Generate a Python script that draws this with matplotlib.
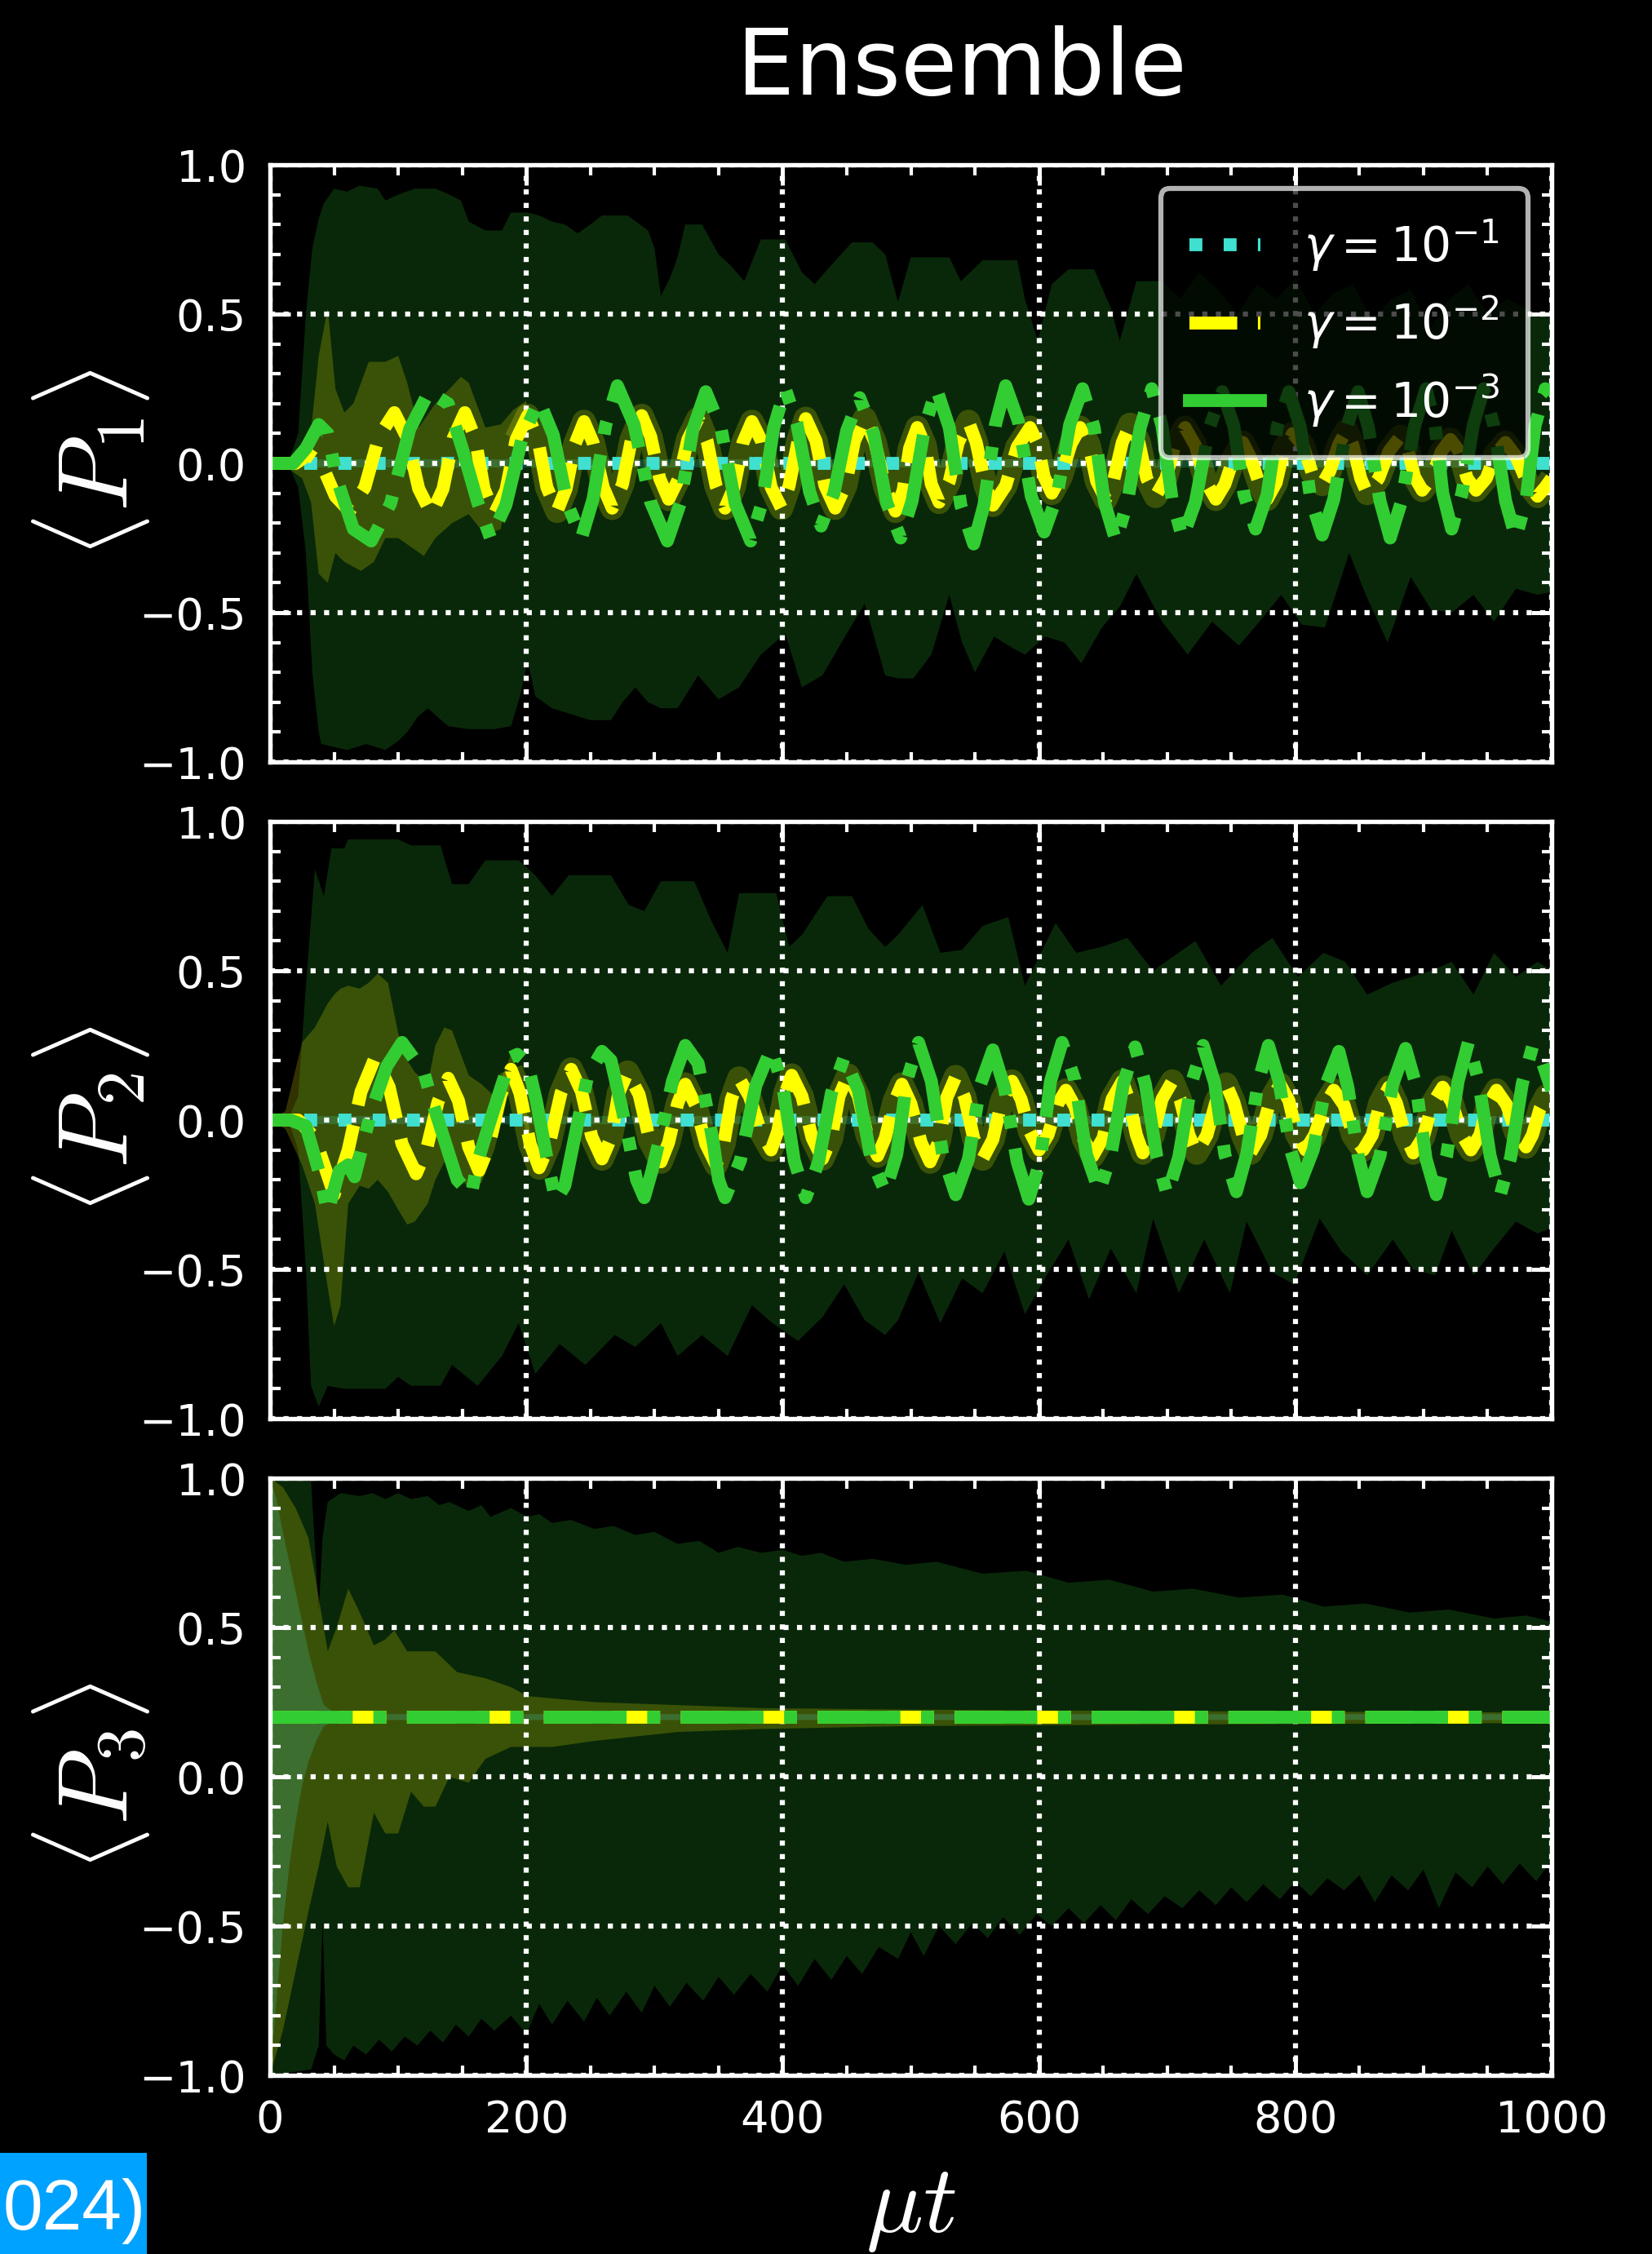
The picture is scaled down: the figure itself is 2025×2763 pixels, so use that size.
import numpy as np
import matplotlib
matplotlib.use('Agg')
import matplotlib.pyplot as plt
from matplotlib.lines import Line2D
from matplotlib.patches import Rectangle

CYAN = '#40E0D0'
YEL = '#FFFF00'
GRN = '#32CD32'

# ---- ensemble means as (mu*t, value) ----
cyan_p1 = [(0, 0.0), (1000, 0.0)]
cyan_p2 = [(0, 0.0), (1000, 0.0)]
mean_p3 = [(0, 0.2), (1000, 0.2)]

green_p1 = [(0,0.0),(10,0.0),(18,0.0),(28,0.05),(38,0.13),(45,0.10),(52,-0.05),(65,-0.22),(79,-0.26),(94,-0.135),
            (109,0.115),(124,0.24),(139,0.20),(150,0.05),(162,-0.13),(172,-0.25),(184,-0.14),(197,0.09),(210,0.21),
            (221,0.095),(232,-0.135),(243,-0.25),(252,-0.12),(262,0.13),(271,0.26),(284,0.13),(297,-0.13),(310,-0.26),
            (320,-0.135),(330,0.115),(340,0.24),(352,0.115),(363,-0.135),(375,-0.26),(384,-0.13),(393,0.12),(402,0.25),
            (411,0.135),(421,-0.095),(430,-0.21),(440,-0.10),(450,0.11),(460,0.22),(471,0.10),(481,-0.13),(492,-0.25),
            (501,-0.125),(511,0.125),(520,0.25),(530,0.12),(539,-0.14),(549,-0.27),(557,-0.14),(566,0.13),(574,0.26),
            (584,0.14),(594,-0.11),(604,-0.23),(614,-0.11),(624,0.13),(634,0.25),(643,0.12),(651,-0.13),(660,-0.26),
            (669,-0.13),(679,0.12),(688,0.25),(696,0.125),(704,-0.125),(712,-0.25),(722,-0.13),(733,0.12),(743,0.24),
            (752,0.125),(760,-0.105),(769,-0.22),(778,-0.105),(786,0.125),(795,0.24),(804,0.12),(812,-0.12),(821,-0.24),
            (830,-0.12),(840,0.12),(849,0.24),(857,0.12),(866,-0.125),(874,-0.25),(883,-0.125),(893,0.125),(902,0.25),
            (909,0.13),(915,-0.10),(922,-0.22),(930,-0.10),(939,0.13),(947,0.25),(955,0.125),(964,-0.125),(972,-0.25),
            (980,-0.125),(987,0.125),(995,0.25),(1000,0.23)]

yellow_p1 = [(0,0.0),(20,0.0),(30,0.03),(40,0.0),(51,-0.11),(62,-0.16),(74,-0.08),(85,0.09),(97,0.17),(107,0.085),
             (116,-0.085),(126,-0.17),(135,-0.085),(143,0.085),(152,0.17),(160,0.085),(167,-0.085),(175,-0.17),(184,-0.09),
             (192,0.08),(201,0.16),(209,0.08),(216,-0.08),(224,-0.16),(231,-0.085),(238,0.065),(245,0.14),(252,0.07),
             (260,-0.08),(267,-0.15),(275,-0.07),(282,0.08),(290,0.16),(297,0.09),(304,-0.05),(311,-0.12),(319,-0.05),
             (326,0.08),(334,0.15),(341,0.075),(348,-0.075),(355,-0.15),(362,-0.08),(369,0.07),(376,0.14),(384,0.07),
             (391,-0.08),(399,-0.15),(405,-0.075),(412,0.075),(418,0.15),(426,0.075),(433,-0.075),(441,-0.15),(449,-0.075),
             (456,0.075),(464,0.15),(472,0.07),(480,-0.08),(488,-0.16),(494,-0.09),(499,0.05),(505,0.12),(511,0.06),
             (516,-0.07),(522,-0.13),(530,-0.06),(537,0.07),(545,0.14),(551,0.07),(558,-0.07),(564,-0.14),(574,-0.075),
             (583,0.055),(593,0.12),(599,0.065),(604,-0.045),(610,-0.10),(617,-0.045),(625,0.065),(632,0.12),(639,0.06),
             (645,-0.06),(652,-0.12),(658,-0.06),(665,0.07),(671,0.13),(678,0.07),(684,-0.05),(691,-0.11),(699,-0.05),
             (706,0.06),(714,0.12),(722,0.06),(730,-0.06),(738,-0.12),(745,-0.07),(752,0.02),(759,0.07),(765,0.02),
             (772,-0.07),(778,-0.12),(785,-0.065),(791,0.045),(798,0.10),(806,0.06),(813,-0.03),(821,-0.07),(827,-0.025),
             (834,0.065),(840,0.11),(845,0.06),(851,-0.05),(856,-0.10),(865,-0.05),(873,0.04),(882,0.09),(888,0.045),
             (893,-0.045),(899,-0.09),(906,-0.05),(914,0.04),(921,0.08),(928,0.04),(934,-0.05),(941,-0.09),(949,-0.05),
             (956,0.03),(964,0.07),(972,0.025),(981,-0.065),(989,-0.11),(995,-0.08),(1000,-0.05)]

green_p2 = [(0,0.0),(16,0.0),(28,-0.02),(38,-0.17),(45,-0.31),(54,-0.17),(61,-0.15),(66,-0.19),(79,0.03),(91,0.18),
            (103,0.26),(120,0.16),(126,0.07),(146,-0.20),(157,-0.25),(162,-0.14),(172,0.0),(181,0.12),(188,0.21),(193,0.22),
            (201,0.19),(208,0.06),(214,-0.08),(218,-0.17),(223,-0.27),(230,-0.22),(240,-0.01),(248,0.15),(259,0.23),
            (266,0.20),(275,0.03),(280,-0.07),(286,-0.20),(292,-0.26),(298,-0.17),(308,0.01),(314,0.13),(324,0.25),
            (334,0.19),(340,0.06),(346,-0.08),(350,-0.20),(355,-0.26),(367,-0.135),(379,0.115),(391,0.24),(400,0.115),
            (409,-0.135),(418,-0.26),(428,-0.14),(438,0.09),(448,0.21),(459,0.10),(469,-0.13),(480,-0.24),(489,-0.115),
            (497,0.135),(506,0.26),(516,0.13),(525,-0.12),(535,-0.25),(545,-0.13),(554,0.115),(564,0.235),(573,0.11),
            (583,-0.14),(592,-0.265),(601,-0.135),(609,0.13),(618,0.26),(628,0.135),(637,-0.115),(647,-0.24),(656,-0.12),
            (666,0.125),(675,0.245),(683,0.12),(692,-0.125),(700,-0.25),(709,-0.125),(719,0.125),(728,0.25),(737,0.125),
            (745,-0.115),(754,-0.24),(762,-0.115),(771,0.125),(779,0.25),(787,0.135),(796,-0.095),(804,-0.21),(814,-0.10),
            (824,0.12),(834,0.23),(841,0.11),(849,-0.12),(856,-0.24),(866,-0.12),(876,0.12),(886,0.24),(894,0.12),
            (902,-0.13),(910,-0.25),(918,-0.12),(927,0.13),(935,0.26),(943,0.13),(952,-0.12),(960,-0.25),(968,-0.125),
            (977,0.12),(985,0.245),(993,0.19),(1000,0.10)]

yellow_p2 = [(0,0.0),(22,0.0),(35,-0.06),(43,-0.16),(50,-0.25),(61,-0.10),(71,0.095),(82,0.21),(93,0.11),(103,-0.08),
             (114,-0.18),(122,-0.10),(131,0.06),(139,0.14),(147,0.065),(155,-0.09),(163,-0.17),(171,-0.085),(180,0.085),
             (188,0.17),(195,0.09),(203,-0.08),(210,-0.16),(218,-0.08),(227,0.09),(235,0.17),(243,0.095),(251,-0.055),
             (259,-0.13),(266,-0.06),(272,0.09),(279,0.16),(288,0.085),(296,-0.065),(305,-0.14),(311,-0.075),(318,0.055),
             (324,0.12),(332,0.05),(340,-0.08),(348,-0.15),(354,-0.08),(360,0.07),(366,0.14),(374,0.08),(383,-0.04),
             (391,-0.10),(396,-0.04),(402,0.09),(407,0.15),(415,0.08),(423,-0.06),(431,-0.13),(438,-0.06),(444,0.08),
             (451,0.15),(459,0.08),(466,-0.05),(474,-0.12),(480,-0.06),(487,0.06),(493,0.12),(500,0.055),(508,-0.075),
             (515,-0.14),(522,-0.07),(528,0.075),(535,0.145),(542,0.075),(549,-0.06),(556,-0.13),(564,-0.065),(571,0.065),
             (579,0.13),(586,0.07),(593,-0.04),(600,-0.10),(607,-0.05),(614,0.05),(621,0.10),(628,0.045),(635,-0.065),
             (642,-0.12),(650,-0.06),(657,0.07),(665,0.13),(670,0.07),(676,-0.05),(681,-0.11),(689,-0.05),(696,0.07),
             (704,0.13),(710,0.07),(717,-0.05),(723,-0.11),(731,-0.05),(738,0.06),(746,0.12),(752,0.06),(759,-0.05),
             (765,-0.11),(773,-0.05),(780,0.06),(788,0.12),(795,0.065),(801,-0.045),(808,-0.10),(815,-0.05),(823,0.05),
             (830,0.10),(838,0.05),(845,-0.05),(853,-0.10),(860,-0.05),(866,0.055),(873,0.11),(879,0.055),(886,-0.055),
             (892,-0.11),(900,-0.055),(907,0.055),(915,0.11),(922,0.06),(930,-0.05),(937,-0.10),(944,-0.05),(950,0.05),
             (957,0.10),(965,0.05),(972,-0.04),(980,-0.09),(985,-0.05),(991,0.04),(996,0.08),(1000,0.07)]

# ---- spread bands: upper / lower edges ----
g1_hi = [(0,0.0),(15,0.01),(22,0.1),(28,0.5),(33,0.72),(38,0.82),(42,0.87),(50,0.92),(60,0.91),(70,0.93),(84,0.92),
         (90,0.88),(100,0.9),(113,0.92),(129,0.92),(140,0.9),(149,0.88),(155,0.81),(168,0.78),(181,0.78),(188,0.84),
         (201,0.84),(210,0.83),(220,0.81),(230,0.8),(240,0.77),(250,0.8),(259,0.83),(279,0.83),(295,0.78),(300,0.72),
         (305,0.56),(312,0.62),(318,0.69),(324,0.8),(337,0.8),(350,0.70),(360,0.66),(370,0.61),(383,0.75),(402,0.75),
         (415,0.64),(425,0.6),(435,0.65),(454,0.74),(470,0.74),(480,0.7),(490,0.54),(500,0.69),(530,0.69),(539,0.61),
         (556,0.68),(583,0.68),(589,0.55),(599,0.41),(610,0.6),(623,0.65),(643,0.65),(656,0.52),(663,0.41),(676,0.61),
         (696,0.61),(710,0.55),(725,0.64),(740,0.58),(755,0.5),(770,0.6),(785,0.55),(800,0.62),(815,0.5),(830,0.57),
         (845,0.6),(860,0.48),(875,0.55),(890,0.58),(905,0.45),(920,0.55),(935,0.6),(950,0.5),(965,0.55),(980,0.52),
         (989,0.49),(1000,0.5)]
g1_lo = [(0,0.0),(15,-0.01),(22,-0.08),(28,-0.3),(33,-0.7),(38,-0.9),(40,-0.94),(50,-0.95),(60,-0.96),(75,-0.94),
         (90,-0.96),(100,-0.93),(107,-0.9),(115,-0.85),(123,-0.82),(139,-0.88),(155,-0.89),(175,-0.89),(188,-0.88),
         (195,-0.78),(201,-0.66),(207,-0.78),(220,-0.82),(235,-0.84),(250,-0.86),(266,-0.86),(275,-0.8),(285,-0.75),
         (295,-0.8),(305,-0.82),(318,-0.82),(334,-0.71),(350,-0.79),(366,-0.75),(383,-0.64),(402,-0.57),(415,-0.75),
         (431,-0.71),(450,-0.57),(464,-0.47),(480,-0.71),(490,-0.72),(502,-0.72),(516,-0.64),(530,-0.44),(540,-0.6),
         (550,-0.70),(565,-0.58),(580,-0.62),(589,-0.64),(605,-0.58),(620,-0.6),(633,-0.67),(649,-0.55),(663,-0.48),
         (676,-0.37),(696,-0.53),(716,-0.64),(735,-0.53),(756,-0.61),(772,-0.53),(789,-0.44),(805,-0.54),(823,-0.55),
         (842,-0.30),(855,-0.44),(872,-0.6),(890,-0.38),(906,-0.49),(922,-0.5),(939,-0.44),(955,-0.53),(972,-0.42),
         (989,-0.44),(1000,-0.43)]
g2_hi = [(0,0.0),(15,0.01),(22,0.08),(28,0.45),(35,0.84),(42,0.75),(48,0.91),(58,0.91),(61,0.94),(80,0.94),(100,0.94),
         (110,0.92),(133,0.92),(142,0.79),(155,0.79),(168,0.87),(194,0.87),(207,0.82),(220,0.75),(233,0.82),(266,0.82),
         (280,0.72),(292,0.7),(305,0.8),(331,0.8),(344,0.67),(357,0.56),(366,0.76),(395,0.76),(405,0.58),(415,0.62),
         (435,0.75),(454,0.75),(467,0.64),(480,0.58),(490,0.62),(509,0.72),(523,0.56),(540,0.57),(556,0.65),(576,0.68),
         (589,0.45),(613,0.66),(629,0.56),(649,0.58),(669,0.61),(689,0.5),(722,0.6),(742,0.45),(766,0.56),(782,0.61),
         (802,0.48),(822,0.56),(839,0.53),(856,0.42),(876,0.46),(906,0.5),(922,0.53),(939,0.42),(955,0.56),(972,0.48),
         (989,0.53),(1000,0.5)]
g2_lo = [(0,0.0),(15,-0.01),(22,-0.1),(28,-0.5),(32,-0.89),(38,-0.96),(45,-0.89),(58,-0.9),(90,-0.9),(100,-0.86),
         (110,-0.89),(133,-0.89),(142,-0.82),(162,-0.89),(181,-0.79),(194,-0.68),(207,-0.85),(226,-0.75),(246,-0.82),
         (269,-0.72),(285,-0.76),(305,-0.68),(318,-0.79),(337,-0.72),(357,-0.79),(376,-0.62),(392,-0.68),(412,-0.74),
         (431,-0.66),(448,-0.55),(464,-0.67),(480,-0.72),(490,-0.67),(506,-0.51),(523,-0.68),(540,-0.53),(556,-0.58),
         (573,-0.44),(589,-0.65),(606,-0.52),(623,-0.4),(639,-0.6),(656,-0.43),(676,-0.58),(689,-0.33),(709,-0.58),
         (729,-0.4),(749,-0.58),(762,-0.34),(782,-0.51),(799,-0.55),(819,-0.33),(836,-0.44),(856,-0.52),(876,-0.4),
         (892,-0.5),(909,-0.52),(922,-0.37),(939,-0.52),(955,-0.43),(972,-0.34),(989,-0.38),(1000,-0.36)]
g3_hi = [(0,1.0),(32,0.99),(36,0.7),(38,0.55),(41,0.8),(45,0.92),(55,0.95),(70,0.94),(80,0.95),(90,0.93),(100,0.95),
         (110,0.93),(123,0.94),(132,0.91),(140,0.92),(155,0.89),(165,0.91),(172,0.87),(188,0.9),(201,0.87),(210,0.88),
         (220,0.85),(235,0.86),(253,0.83),(268,0.84),(285,0.81),(300,0.82),(318,0.78),(335,0.79),(350,0.75),(365,0.77),
         (383,0.75),(400,0.76),(415,0.74),(430,0.75),(448,0.72),(470,0.73),(496,0.71),(520,0.72),(556,0.68),(590,0.69),
         (623,0.65),(655,0.66),(689,0.62),(720,0.63),(756,0.6),(790,0.61),(822,0.57),(855,0.58),(889,0.55),(920,0.56),
         (955,0.53),(980,0.54),(1000,0.52)]
g3_lo = [(0,-1.0),(32,-0.98),(38,-0.9),(41,-0.48),(44,-0.9),(50,-0.93),(58,-0.95),(65,-0.9),(75,-0.93),(85,-0.88),
         (95,-0.92),(105,-0.87),(115,-0.9),(125,-0.85),(135,-0.89),(145,-0.83),(155,-0.87),(165,-0.81),(175,-0.85),
         (188,-0.8),(200,-0.86),(210,-0.76),(220,-0.83),(232,-0.75),(245,-0.82),(255,-0.74),(265,-0.8),(278,-0.72),
         (290,-0.79),(300,-0.7),(312,-0.77),(325,-0.69),(338,-0.75),(350,-0.67),(362,-0.73),(375,-0.66),(388,-0.72),
         (400,-0.63),(412,-0.7),(425,-0.61),(438,-0.68),(450,-0.6),(462,-0.66),(475,-0.57),(490,-0.61),(500,-0.52),
         (510,-0.6),(522,-0.5),(535,-0.56),(548,-0.49),(560,-0.54),(572,-0.47),(585,-0.53),(598,-0.46),(610,-0.5),
         (623,-0.44),(635,-0.49),(648,-0.43),(660,-0.48),(672,-0.41),(685,-0.46),(698,-0.4),(712,-0.44),(725,-0.38),
         (738,-0.43),(750,-0.37),(762,-0.42),(775,-0.36),(788,-0.41),(800,-0.35),(812,-0.4),(825,-0.34),(838,-0.38),
         (850,-0.33),(862,-0.42),(875,-0.33),(888,-0.38),(900,-0.31),(912,-0.44),(925,-0.32),(938,-0.37),(950,-0.3),
         (962,-0.36),(975,-0.29),(988,-0.35),(1000,-0.28)]

y1_hi = [(0,0.0),(12,0.01),(25,0.05),(32,0.11),(38,0.36),(45,0.52),(51,0.25),(58,0.17),(65,0.20),(77,0.34),(90,0.34),
         (100,0.36),(107,0.27),(116,0.12),(129,0.20),(149,0.29),(155,0.27),(168,0.12),(180,0.13),(190,0.18),(200,0.21)]
y1_lo = [(0,0.0),(12,-0.01),(25,-0.05),(32,-0.13),(38,-0.37),(45,-0.40),(51,-0.30),(58,-0.33),(71,-0.36),(81,-0.33),
         (90,-0.25),(100,-0.25),(110,-0.28),(120,-0.31),(129,-0.25),(142,-0.20),(155,-0.17),(168,-0.24),(180,-0.22),
         (190,0.0),(200,0.11)]
y2_hi = [(0,0.0),(12,0.03),(25,0.26),(35,0.31),(45,0.39),(50,0.42),(55,0.44),(61,0.45),(70,0.44),(77,0.46),(84,0.49),
         (92,0.46),(100,0.29),(107,0.20),(113,0.16),(123,0.12),(129,0.25),(136,0.31),(142,0.30),(155,0.15),(165,0.12),
         (175,0.08),(188,0.22),(196,0.14),(203,-0.04)]
y2_lo = [(0,0.0),(12,-0.03),(25,-0.15),(35,-0.28),(45,-0.56),(50,-0.69),(55,-0.62),(61,-0.28),(70,-0.22),(77,-0.23),
         (84,-0.20),(92,-0.24),(100,-0.30),(107,-0.35),(113,-0.34),(123,-0.28),(129,-0.20),(136,-0.14),(142,-0.15),
         (155,-0.23),(165,-0.21),(175,-0.10),(188,0.12),(196,0.04),(203,-0.12)]
y3_hi = [(0,1.0),(10,0.97),(20,0.9),(30,0.8),(38,0.6),(45,0.42),(52,0.5),(61,0.63),(70,0.55),(81,0.44),(90,0.46),
         (97,0.49),(107,0.42),(120,0.42),(129,0.42),(146,0.35),(168,0.33),(188,0.3),(201,0.27),(253,0.25),(318,0.24),
         (383,0.23),(500,0.225),(700,0.22),(1000,0.215)]
y3_lo = [(0,-1.0),(10,-0.85),(20,-0.65),(30,-0.45),(38,-0.3),(45,-0.15),(52,-0.3),(61,-0.37),(70,-0.37),(81,-0.12),
         (90,-0.19),(100,-0.19),(110,-0.05),(120,-0.1),(129,-0.1),(140,0.0),(155,-0.02),(168,0.06),(188,0.1),(220,0.1),
         (253,0.12),(318,0.15),(383,0.16),(500,0.17),(700,0.175),(1000,0.18)]

c12_hi = [(0,0.015),(1000,0.015)]
c12_lo = [(0,-0.015),(1000,-0.015)]
c3_hi = [(0,1.0),(5,0.93),(10,0.82),(15,0.72),(20,0.62),(25,0.52),(30,0.42),(36,0.32),(42,0.24),(50,0.215),(70,0.21),
         (1000,0.21)]
c3_lo = [(0,-1.0),(5,-0.75),(10,-0.5),(15,-0.3),(20,-0.15),(25,-0.03),(30,0.05),(36,0.12),(42,0.17),(50,0.185),
         (70,0.19),(1000,0.19)]

labels = [r'$\gamma = 10^{-1}$', r'$\gamma = 10^{-2}$', r'$\gamma = 10^{-3}$']
ylabels = [r'$\langle P_1 \rangle$', r'$\langle P_2 \rangle$', r'$\langle P_3 \rangle$']


def arr(pairs):
    a = np.array(pairs, dtype=float)
    return a[:, 0], a[:, 1]


def band(ax, hi, lo, color):
    th, vh = arr(hi)
    tl, vl = arr(lo)
    ax.fill(np.r_[th, tl[::-1]], np.r_[vh, vl[::-1]], color=color, alpha=0.2, lw=0, zorder=1)


panels = [
    dict(g=green_p1, y=yellow_p1, c=cyan_p1, gb=(g1_hi, g1_lo), yb=(y1_hi, y1_lo), cb=(c12_hi, c12_lo), glow=True),
    dict(g=green_p2, y=yellow_p2, c=cyan_p2, gb=(g2_hi, g2_lo), yb=(y2_hi, y2_lo), cb=(c12_hi, c12_lo), glow=True),
    dict(g=mean_p3, y=mean_p3, c=None, gb=(g3_hi, g3_lo), yb=(y3_hi, y3_lo), cb=(c3_hi, c3_lo), glow=False),
]

fig = plt.figure(figsize=(6.75, 9.21), dpi=300, facecolor='black')
bottoms = [0.66196, 0.37061, 0.07926]
axes = [fig.add_axes([0.16346, b, 0.77580, 0.26493]) for b in bottoms]

for i, (ax, p) in enumerate(zip(axes, panels)):
    ax.set_facecolor('black')
    band(ax, *p['gb'], GRN)
    band(ax, *p['yb'], YEL)
    band(ax, *p['cb'], CYAN)
    if p['glow']:
        t, v = arr(p['y'])
        m = t >= 185
        ax.plot(t[m], v[m], color=YEL, lw=7, alpha=0.2, solid_capstyle='butt', zorder=1.2)
    if p['c'] is not None:
        t, v = arr(p['c'])
        ax.plot(t, v, color=CYAN, ls=':', lw=3.8, zorder=2)
    t, v = arr(p['y'])
    ax.plot(t, v, color=YEL, ls='--', lw=3.8, zorder=2.1)
    t, v = arr(p['g'])
    ax.plot(t, v, color=GRN, ls='-.', lw=3.8, zorder=2.2)

    ax.set_xlim(0, 1000)
    ax.set_ylim(-1.0, 1.0)
    ax.set_xticks(np.arange(0, 1001, 200))
    ax.set_xticks(np.arange(0, 1001, 50), minor=True)
    ax.set_yticks([-1.0, -0.5, 0.0, 0.5, 1.0])
    ax.set_yticks(np.arange(-1.0, 1.001, 0.1), minor=True)
    ax.set_axisbelow('line')
    ax.grid(True, which='major', color='white', ls=':', lw=1.5)
    ax.tick_params(which='both', direction='in', top=True, right=True, colors='white',
                   labelsize=13, pad=7)
    ax.tick_params(which='major', length=6, width=1.2)
    ax.tick_params(which='minor', length=3, width=1.0)
    for s in ax.spines.values():
        s.set_color('white')
        s.set_linewidth(1.3)
    if i < 2:
        ax.tick_params(labelbottom=False)
    ax.set_ylabel(ylabels[i], fontsize=29, color='white', math_fontfamily='cm')
    ax.yaxis.set_label_coords(-0.14, 0.5)
    ax.yaxis.label.set_va('center')

axes[2].set_xlabel(r'$\mu t$', fontsize=28, color='white', math_fontfamily='cm')
axes[2].xaxis.set_label_coords(0.5, -0.22)
axes[2].xaxis.label.set_va('center')

handles = [Line2D([], [], color=CYAN, ls=':', lw=3.8),
           Line2D([], [], color=YEL, ls='--', lw=3.8),
           Line2D([], [], color=GRN, ls='-', lw=3.8)]
leg = axes[0].legend(handles, labels, loc='upper right', fontsize=14, handlelength=1.5,
                     handletextpad=0.9, labelspacing=0.45, borderpad=0.6, framealpha=0.7,
                     facecolor='black', edgecolor='white', labelcolor='white', fancybox=True)
leg.get_frame().set_linewidth(1.5)
leg.set_zorder(5)

fig.text(0.582, 0.958, 'Ensemble', fontsize=27, color='white', ha='center', va='baseline')

fig.add_artist(Rectangle((0, 0), 180 / 2025, 124 / 2763, transform=fig.transFigure,
                         facecolor='#00A2FF', edgecolor='none'))
fig.text(4 / 2025, 1 - 2733 / 2763, '024)', color='white', fontsize=21,
         family='Liberation Sans', ha='left', va='baseline')

fig.savefig('out.png', dpi=300, facecolor='black')
